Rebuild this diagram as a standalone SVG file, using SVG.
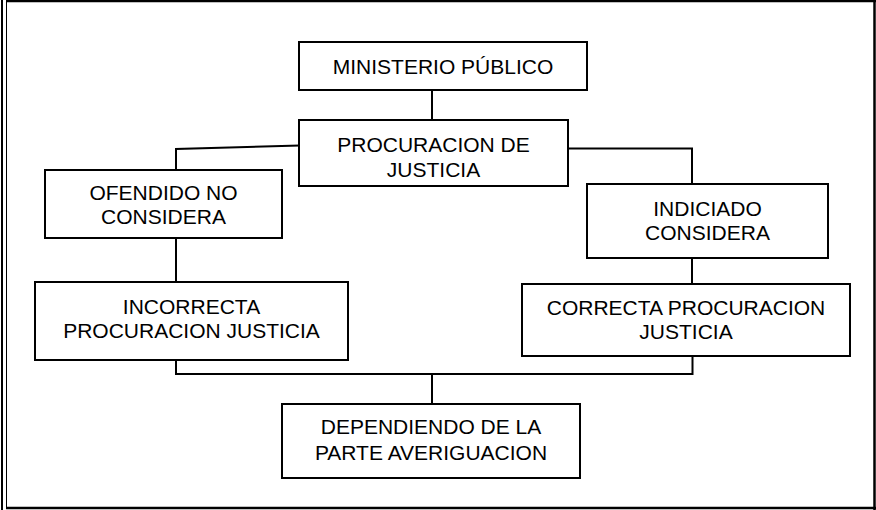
<svg xmlns="http://www.w3.org/2000/svg" width="876" height="510" viewBox="0 0 876 510">
<style>
.box{fill:#fff;stroke:#000;stroke-width:2}
.t{font-family:"Liberation Sans",Arial,sans-serif;font-size:21px;fill:#000;text-anchor:middle}
.c{fill:none;stroke:#000;stroke-width:2}
.f{fill:none;stroke:#000}
</style>
<rect width="876" height="510" fill="#fff"/>
<g id="frame">
<line class="f" x1="2" y1="0" x2="2" y2="510" stroke-width="2"/>
<line class="f" x1="6.5" y1="0" x2="6.5" y2="509" stroke-width="1"/>
<line class="f" x1="6" y1="1" x2="876" y2="1" stroke-width="2.5"/>
<line class="f" x1="874.5" y1="0" x2="874.5" y2="510" stroke-width="2.5"/>
<line class="f" x1="6" y1="508" x2="876" y2="508" stroke-width="2.5"/>
</g>
<g id="connectors">
<line class="c" x1="432" y1="90" x2="432" y2="120"/>
<polyline class="c" points="300,145.5 176,149 176,170"/>
<polyline class="c" points="568,148.5 692,148.5 692,184"/>
<line class="c" x1="176" y1="238" x2="176" y2="282"/>
<line class="c" x1="692" y1="254" x2="692" y2="284"/>
<polyline class="c" points="176,360 176,374 692.5,374 692.5,350"/>
<line class="c" x1="432" y1="374" x2="432" y2="404"/>
</g>
<g id="ministerio">
<rect class="box" x="299" y="42" width="288" height="48"/>
<text class="t" x="443" y="73.5">MINISTERIO PÚBLICO</text>
</g>
<g id="procuracion">
<rect class="box" x="299" y="120" width="269" height="66"/>
<text class="t" x="433.5" y="151.5">PROCURACION DE</text>
<text class="t" x="433.5" y="176.5">JUSTICIA</text>
</g>
<g id="ofendido">
<rect class="box" x="45" y="170" width="237" height="68"/>
<text class="t" x="163.5" y="200">OFENDIDO NO</text>
<text class="t" x="163.5" y="224">CONSIDERA</text>
</g>
<g id="indiciado">
<rect class="box" x="587" y="184" width="241" height="74"/>
<text class="t" x="707.5" y="216">INDICIADO</text>
<text class="t" x="707.5" y="239.5">CONSIDERA</text>
</g>
<g id="incorrecta">
<rect class="box" x="35" y="282" width="313" height="78"/>
<text class="t" x="191.5" y="313.5">INCORRECTA</text>
<text class="t" x="191.5" y="337.5">PROCURACION JUSTICIA</text>
</g>
<g id="correcta">
<rect class="box" x="522" y="284" width="328" height="72"/>
<text class="t" x="686" y="315">CORRECTA PROCURACION</text>
<text class="t" x="686" y="338.5">JUSTICIA</text>
</g>
<g id="dependiendo">
<rect class="box" x="282" y="404" width="298" height="74"/>
<text class="t" x="431" y="434">DEPENDIENDO DE LA</text>
<text class="t" x="431" y="460">PARTE AVERIGUACION</text>
</g>
</svg>
